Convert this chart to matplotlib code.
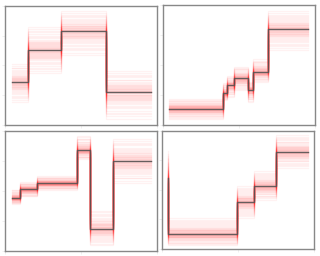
import matplotlib
matplotlib.use("Agg")
import matplotlib.pyplot as plt

# step edges, levels and sample bounds for each panel
p1_edges = [4.6, 15.5, 36.7, 66.8, 96.3]
p1_levels = [35.7, 62.9, 78.7, 27.2]
p1_lo = [19.4, 43.3, 58.7, 4.8]
p1_hi = [51.1, 82.6, 95.8, 45.2]

p2_edges = [3.7, 39.7, 41.9, 46.7, 56.1, 59.4, 69.2, 95.4]
p2_levels = [13.6, 26.4, 33.1, 38.9, 29.2, 44.2, 79.7]
p2_lo = [5.0, 20.8, 23.6, 29.2, 19.4, 36.1, 62.5]
p2_hi = [21.7, 35.3, 40.8, 48.6, 36.1, 54.7, 95.0]

p3_edges = [4.6, 10.0, 21.0, 47.6, 55.9, 71.2, 96.3]
p3_levels = [44.1, 51.4, 56.4, 84.1, 18.4, 74.9]
p3_lo = [39.1, 45.5, 51.1, 76.3, 4.5, 56.7]
p3_hi = [51.1, 57.3, 62.3, 95.8, 33.5, 93.6]

p4_edges = [4.2, 4.2, 49.6, 60.7, 75.0, 95.8]
p4_levels = [60.2, 12.5, 39.8, 53.1, 82.4]
p4_lo = [45.0, 2.8, 26.1, 41.8, 68.8]
p4_hi = [83.0, 26.1, 53.1, 65.9, 96.6]

# positions of the faint sample lines within each band (0 = low, 1 = high)
sample_pos = [0.5, 0.45, 0.55, 0.4, 0.6, 0.48, 0.52, 0.35, 0.65, 0.42,
              0.58, 0.3, 0.7, 0.46, 0.54, 0.25, 0.75, 0.38, 0.62, 0.2,
              0.8, 0.44, 0.56, 0.15, 0.85, 0.33, 0.67, 0.1, 0.9, 0.05,
              0.95, 0.0, 1.0, 0.5, 0.47, 0.53, 0.41, 0.59, 0.36, 0.64,
              0.49, 0.51, 0.43, 0.57, 0.39, 0.61, 0.32, 0.68, 0.28, 0.72,
              0.5, 0.46, 0.54, 0.37, 0.63, 0.22, 0.78, 0.12, 0.88, 0.5]

panels = [
    (p1_edges, p1_levels, p1_lo, p1_hi, [0.0147, 0.5129, 0.4759, 0.4637]),
    (p2_edges, p2_levels, p2_lo, p2_hi, [0.509, 0.512, 0.475, 0.468]),
    (p3_edges, p3_levels, p3_lo, p3_hi, [0.0147, 0.0207, 0.4759, 0.4676]),
    (p4_edges, p4_levels, p4_lo, p4_hi, [0.506, 0.0285, 0.475, 0.4595]),
]

fig = plt.figure(figsize=(3.2, 2.56), dpi=100)

for edges, levels, lo, hi, rect in panels:
    ax = fig.add_axes(rect)
    n = len(sample_pos)
    for k in range(n):
        vals = []
        for s in range(len(levels)):
            f = sample_pos[(k + s * 7) % n]
            if f < 0.5:
                v = levels[s] - (levels[s] - lo[s]) * (0.5 - f) * 2
            else:
                v = levels[s] + (hi[s] - levels[s]) * (f - 0.5) * 2
            vals.append(v)
        ax.step(edges, vals + [vals[-1]], where="post", color="red",
                alpha=0.05, lw=0.9)
    ax.step(edges, levels + [levels[-1]], where="post", color="#555555",
            lw=1.0, alpha=0.9)
    ax.set_xlim(0, 100)
    ax.set_ylim(0, 100)
    ax.tick_params(labelbottom=False, labelleft=False, length=2,
                   color="#eeeeee", width=0.6)
    for sp in ax.spines.values():
        sp.set_color("#888888")
        sp.set_linewidth(1.0)

fig.savefig("out.png", dpi=100)
